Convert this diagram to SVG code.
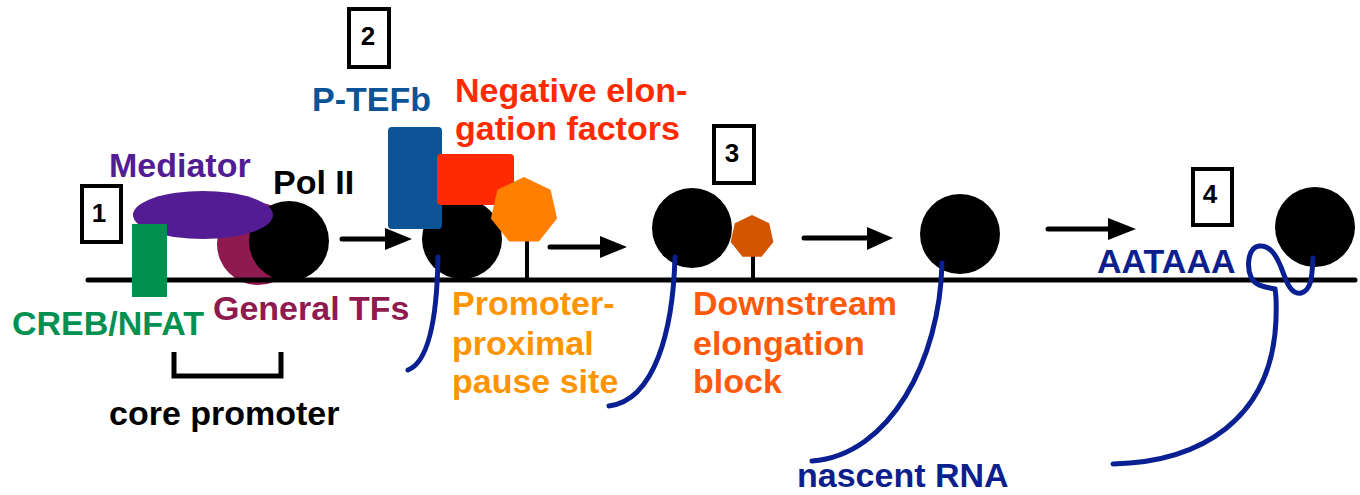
<svg xmlns="http://www.w3.org/2000/svg" width="1360" height="495" viewBox="0 0 1360 495">
<style>
text{font-family:"Liberation Sans",Arial,sans-serif;font-weight:bold;font-size:34px}
.num{font-size:26px;text-anchor:middle;fill:#000}
.box{fill:#fff;stroke:#000;stroke-width:4}
.pol{fill:#000}
.rna{fill:none;stroke:#0a1f91;stroke-width:5;stroke-linecap:round}
.shaft{stroke:#000;stroke-width:5;stroke-linecap:round}
.stem{stroke:#000;stroke-width:4}
</style>
<rect width="1360" height="495" fill="#fff"/>

<g id="step1">
  <rect class="box" x="82" y="186" width="39" height="56"/>
  <text class="num" x="99" y="222">1</text>
  <circle cx="258" cy="244" r="41" fill="#8f1a4f"/>
  <circle class="pol" cx="289" cy="241" r="40"/>
  <ellipse cx="203" cy="215" rx="70" ry="24" fill="#531c94"/>
  <text x="109" y="177" fill="#531c94">Mediator</text>
  <text x="273" y="194" fill="#000">Pol II</text>
</g>

<g id="dna">
  <line x1="88" y1="280" x2="1355" y2="280" stroke="#000" stroke-width="5" stroke-linecap="round"/>
</g>

<g id="creb">
  <rect x="132" y="224" width="35" height="73" fill="#009150"/>
  <text x="12" y="335" fill="#009150">CREB/NFAT</text>
  <text x="213" y="320" fill="#8f1a4f">General TFs</text>
</g>

<g id="core-promoter">
  <path d="M174,352 V376 H281 V352" fill="none" stroke="#000" stroke-width="5"/>
  <text x="109" y="425" fill="#000">core promoter</text>
</g>

<g id="step2">
  <rect class="box" x="349" y="9" width="40" height="58"/>
  <text class="num" x="368" y="45">2</text>
  <text x="312" y="111" fill="#0b5394">P-TEFb</text>
  <text x="455" y="102" fill="#ff2a00">Negative elon-</text>
  <text x="455" y="140" fill="#ff2a00">gation factors</text>
  <circle class="pol" cx="462" cy="239" r="40"/>
  <rect x="388" y="127" width="54" height="102" rx="4" fill="#0b5394"/>
  <rect x="437" y="154" width="77" height="51" rx="4" fill="#ff2a00"/>
  <line class="stem" x1="527" y1="238" x2="527" y2="278"/>
  <polygon points="524,177 550.6,189.8 557.1,218.6 538.8,241.6 509.2,241.6 490.9,218.6 497.4,189.8" fill="#ff8000"/>
  <text x="452" y="315" fill="#ff9400">Promoter-</text>
  <text x="452" y="355" fill="#ff9400">proximal</text>
  <text x="452" y="393" fill="#ff9400">pause site</text>
</g>

<g id="step3">
  <rect class="box" x="714" y="126" width="40" height="57"/>
  <text class="num" x="732" y="162">3</text>
  <circle class="pol" cx="692" cy="228" r="40"/>
  <line class="stem" x1="753" y1="255" x2="753" y2="278"/>
  <polygon points="752,215 769.2,223.3 773.4,241.9 761.5,256.8 742.5,256.8 730.6,241.9 734.8,223.3" fill="#d45500"/>
  <text x="693" y="315" fill="#ff5a0a">Downstream</text>
  <text x="693" y="355" fill="#ff5a0a">elongation</text>
  <text x="693" y="393" fill="#ff5a0a">block</text>
</g>

<g id="step-elong">
  <circle class="pol" cx="960" cy="234" r="40"/>
  <text x="797" y="487" fill="#0d1f8c">nascent RNA</text>
</g>

<g id="step4">
  <rect class="box" x="1193" y="169" width="39" height="56"/>
  <text class="num" x="1210" y="203">4</text>
  <circle class="pol" cx="1315" cy="227" r="40"/>
  <text x="1097" y="273" fill="#0d1f8c">AATAAA</text>
</g>

<g id="connectors">
  <line class="shaft" x1="342" y1="239" x2="388" y2="239"/>
  <polygon points="385,228 412,239 385,250"/>
  <line class="shaft" x1="550" y1="247" x2="603" y2="247"/>
  <polygon points="600,236 627,247 600,258"/>
  <line class="shaft" x1="804" y1="238" x2="870" y2="238"/>
  <polygon points="867,227 893,238 867,250"/>
  <line class="shaft" x1="1048" y1="229" x2="1111" y2="229"/>
  <polygon points="1108,218 1136,229 1108,240"/>
  <path class="rna" d="M438,257 C437,320 428,362 408,370"/>
  <path class="rna" d="M675,257 C673,330 655,400 609,406"/>
  <path class="rna" d="M942,263 C940,360 890,455 812,461"/>
  <path class="rna" d="M1313,258 C1312,275 1312,290 1301,293 C1290,295 1286,280 1281,267 C1276,255 1270,245 1259,246 C1247,248 1247,268 1251,277 C1255,286 1265,287 1275,289 C1277,300 1276,310 1276,320 C1272,420 1200,462 1113,464"/>
</g>
</svg>
